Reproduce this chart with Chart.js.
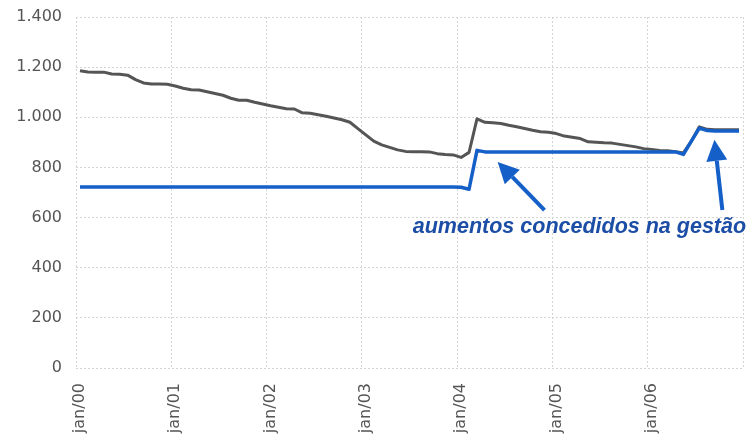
<!DOCTYPE html>
<html>
<head>
<meta charset="utf-8">
<script src="https://cdn.jsdelivr.net/npm/chart.js@4.4.1/dist/chart.umd.min.js"></script>
<style>
  html, body { margin: 0; padding: 0; background: #fff; }
  #wrap { width: 749px; height: 441px; }
</style>
</head>
<body>
<div id="wrap"><canvas id="chart"></canvas></div>
<script>
// meses de jan/00 a dez/06
const anos = ['00', '01', '02', '03', '04', '05', '06'];
const meses = ['jan', 'fev', 'mar', 'abr', 'mai', 'jun', 'jul', 'ago', 'set', 'out', 'nov', 'dez'];
const categorias = [];
anos.forEach(a => meses.forEach(m => categorias.push(m + '/' + a)));

// linha cinza (valor real)
const valorReal = [
    1186, 1181, 1180, 1180, 1173, 1172, 1168, 1150, 1137, 1133, 1133, 1132,
    1125, 1116, 1110, 1109, 1102, 1095, 1088, 1076, 1068, 1068, 1060, 1053,
    1046, 1040, 1034, 1033, 1018, 1016, 1010, 1004, 997, 990, 980, 955,
    930, 905, 890, 880, 870, 864, 863, 863, 862, 855, 852, 850,
    840, 860, 994, 980, 978, 975, 968, 962, 955, 948, 942, 940,
    935, 925, 920, 915, 902, 900, 898, 897, 892, 887, 882, 875,
    872, 868, 867, 863, 858, 905, 962, 952, 950, 950, 950, 950
];

// linha azul (valor nominal)
const valorNominal = [
    722, 722, 722, 722, 722, 722, 722, 722, 722, 722, 722, 722,
    722, 722, 722, 722, 722, 722, 722, 722, 722, 722, 722, 722,
    722, 722, 722, 722, 722, 722, 722, 722, 722, 722, 722, 722,
    722, 722, 722, 722, 722, 722, 722, 722, 722, 722, 722, 722,
    721, 713, 868, 862, 862, 862, 862, 862, 862, 862, 862, 862,
    862, 862, 862, 862, 862, 862, 862, 862, 862, 862, 862, 862,
    862, 862, 862, 862, 852, 905, 957, 947, 945, 945, 945, 945
];

const yTicks = [0, 200, 400, 600, 800, 1000, 1200, 1400];
const anotacao = 'aumentos concedidos na gestão';

const AZUL = '#1560c8';
const GRADE = '#d4d4d4';

function fmtMilhar(v) {
    return String(v).replace(/\B(?=(\d{3})+(?!\d))/g, '.');
}

// texto e setas da anotação, posicionados pelas escalas
const anotacaoPlugin = {
    id: 'anotacao',
    afterDatasetsDraw(chart) {
        const { ctx, scales: { x, y } } = chart;
        const setas = [
            { de: [58.5, 630], para: [52.6, 822] },
            { de: [80.9, 630], para: [79.9, 910] }
        ];
        ctx.save();
        ctx.strokeStyle = AZUL;
        ctx.fillStyle = AZUL;
        ctx.lineWidth = 4;
        setas.forEach(s => {
            const x0 = x.getPixelForValue(s.de[0]), y0 = y.getPixelForValue(s.de[1]);
            const x1 = x.getPixelForValue(s.para[0]), y1 = y.getPixelForValue(s.para[1]);
            const ang = Math.atan2(y1 - y0, x1 - x0);
            const len = 21, half = 10.5;
            const bx = x1 - len * Math.cos(ang), by = y1 - len * Math.sin(ang);
            ctx.beginPath();
            ctx.moveTo(x0, y0);
            ctx.lineTo(bx, by);
            ctx.stroke();
            ctx.beginPath();
            ctx.moveTo(x1, y1);
            ctx.lineTo(bx + half * Math.sin(ang), by - half * Math.cos(ang));
            ctx.lineTo(bx - half * Math.sin(ang), by + half * Math.cos(ang));
            ctx.closePath();
            ctx.fill();
        });
        ctx.font = 'italic bold 21.5px "Liberation Sans", Arial, sans-serif';
        ctx.fillStyle = '#1d4ea6';
        ctx.textAlign = 'center';
        ctx.textBaseline = 'middle';
        ctx.fillText(anotacao, x.getPixelForValue(62.9), y.getPixelForValue(562));
        ctx.restore();
    }
};

new Chart(document.getElementById('chart'), {
    type: 'line',
    data: {
        labels: categorias,
        datasets: [
            { label: 'nominal', data: valorNominal, borderColor: AZUL, borderWidth: 3.5 },
            { label: 'real', data: valorReal, borderColor: '#555555', borderWidth: 3 }
        ]
    },
    options: {
        responsive: true,
        maintainAspectRatio: false,
        animation: false,
        layout: { padding: { top: 17, right: 6, left: 0, bottom: 0 } },
        elements: { point: { radius: 0 }, line: { tension: 0, borderJoinStyle: 'round' } },
        plugins: { legend: { display: false }, tooltip: { enabled: false } },
        scales: {
            x: {
                offset: true,
                afterFit: s => {
                    s.height = 73;
                    s.paddingLeft = 0;
                    s.paddingRight = 0;
                },
                grid: {
                    offset: true,
                    drawTicks: false,
                    color: c => (c.index === undefined || c.index % 12 === 0) ? GRADE : 'transparent'
                },
                border: { display: false, dash: [2, 2] },
                ticks: {
                    autoSkip: false,
                    minRotation: 90,
                    maxRotation: 90,
                    padding: 15,
                    color: '#555555',
                    font: { family: '"DejaVu Sans", sans-serif', size: 16 },
                    callback: (v, i) => i % 12 === 0 ? categorias[i] : ''
                }
            },
            y: {
                min: 0,
                max: 1400,
                afterFit: s => {
                    s.width = 76;
                    s.paddingTop = 0;
                    s.paddingBottom = 0;
                },
                afterBuildTicks: s => { s.ticks = yTicks.map(v => ({ value: v })); },
                grid: { drawTicks: false, color: GRADE },
                border: { display: false, dash: [2, 2] },
                ticks: {
                    padding: 14,
                    color: '#555555',
                    font: { family: '"DejaVu Sans", sans-serif', size: 16 },
                    callback: v => fmtMilhar(v)
                }
            }
        }
    },
    plugins: [anotacaoPlugin]
});
</script>
</body>
</html>
